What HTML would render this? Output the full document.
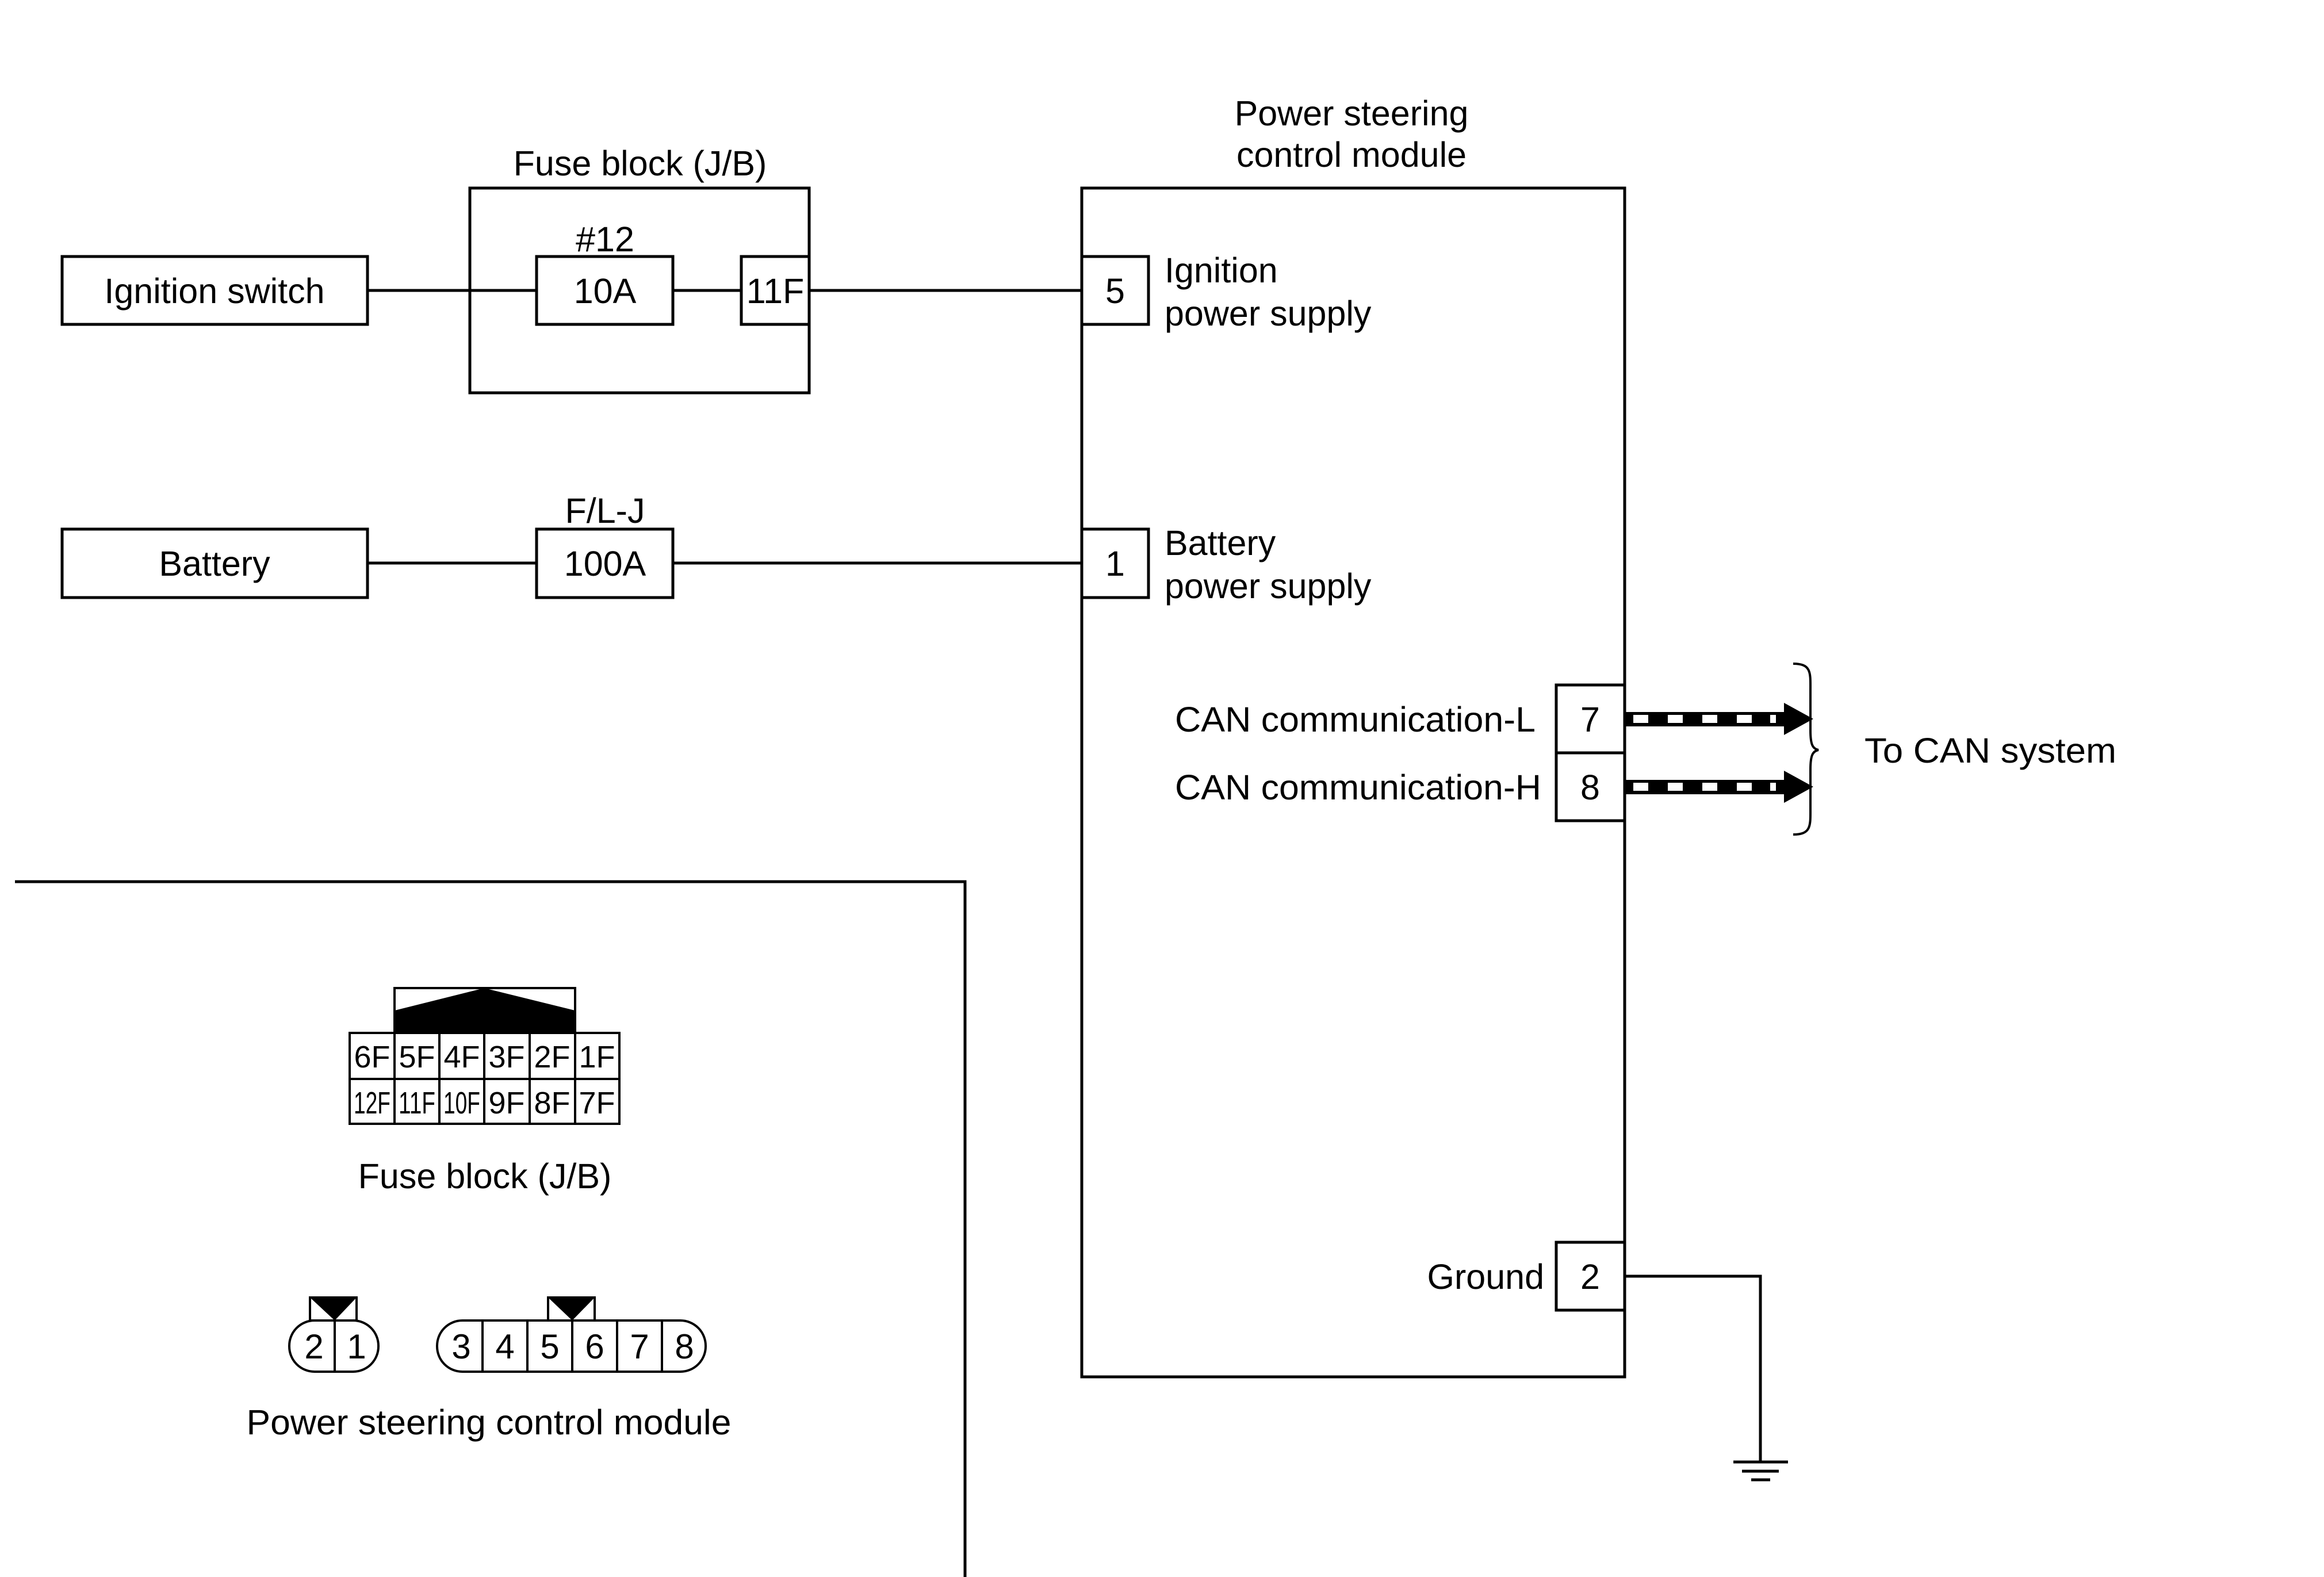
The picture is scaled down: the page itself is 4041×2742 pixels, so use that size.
<!DOCTYPE html>
<html><head><meta charset="utf-8"><style>html,body{margin:0;padding:0;background:#fff}svg{display:block}text{font-family:"Liberation Sans",sans-serif;fill:#000}</style></head>
<body>
<svg width="4041" height="2742" viewBox="0 0 4041 2742" xmlns="http://www.w3.org/2000/svg">
<g fill="none" stroke="#000" stroke-width="5">
<rect x="108" y="446" width="531" height="118"/>
<rect x="817" y="327" width="590" height="356"/>
<rect x="933" y="446" width="237" height="118"/>
<rect x="1289" y="446" width="118" height="118"/>
<line x1="639" y1="505" x2="933" y2="505"/>
<line x1="1170" y1="505" x2="1289" y2="505"/>
<line x1="1407" y1="505" x2="1881" y2="505"/>
<rect x="108" y="920" width="531" height="119"/>
<rect x="933" y="920" width="237" height="119"/>
<line x1="639" y1="979" x2="933" y2="979"/>
<line x1="1170" y1="979" x2="1881" y2="979"/>
<rect x="1881" y="327" width="944" height="2067"/>
<rect x="1881" y="446" width="116" height="118"/>
<rect x="1881" y="920" width="116" height="119"/>
<rect x="2706" y="1191" width="119" height="118"/>
<rect x="2706" y="1309" width="119" height="118"/>
<rect x="2706" y="2160" width="119" height="118"/>
<polyline points="2825,2219 3061,2219 3061,2542"/>
<line x1="3014" y1="2542" x2="3109" y2="2542"/>
<line x1="3029" y1="2558" x2="3093" y2="2558"/>
<line x1="3045" y1="2573" x2="3078" y2="2573"/>
<polyline points="26,1533 1678,1533 1678,2742"/>
<path d="M3118,1154 C3150,1154 3148,1170 3148,1200 L3148,1270 C3148,1295 3152,1302 3162,1304 C3152,1306 3148,1313 3148,1338 L3148,1405 C3148,1435 3150,1451 3118,1451" stroke-width="4"/>
</g>
<!-- CAN arrows -->
<g>
<rect x="2825" y="1238" width="280" height="25" fill="#000"/>
<polygon points="3102,1222 3153,1250 3102,1278" fill="#000"/>
<rect x="2825" y="1356" width="280" height="25" fill="#000"/>
<polygon points="3102,1340 3153,1368 3102,1396" fill="#000"/>
<g fill="#fff">
<rect x="2840" y="1243" width="26" height="14"/><rect x="2900" y="1243" width="26" height="14"/><rect x="2960" y="1243" width="26" height="14"/><rect x="3020" y="1243" width="26" height="14"/><rect x="3078" y="1243" width="10" height="14"/>
<rect x="2840" y="1361" width="26" height="14"/><rect x="2900" y="1361" width="26" height="14"/><rect x="2960" y="1361" width="26" height="14"/><rect x="3020" y="1361" width="26" height="14"/><rect x="3078" y="1361" width="10" height="14"/>
</g>
</g>
<g font-size="61">
<text x="373" y="527" text-anchor="middle">Ignition switch</text>
<text x="1113" y="305" text-anchor="middle">Fuse block (J/B)</text>
<text x="1052" y="437" text-anchor="middle">#12</text>
<text x="1052" y="527" text-anchor="middle">10A</text>
<text x="1348" y="527" text-anchor="middle">11F</text>
<text x="373" y="1001" text-anchor="middle">Battery</text>
<text x="1052" y="909" text-anchor="middle">F/L-J</text>
<text x="1052" y="1001" text-anchor="middle">100A</text>
<text x="2350" y="218" text-anchor="middle">Power steering</text>
<text x="2350" y="290" text-anchor="middle">control module</text>
<text x="1939" y="527" text-anchor="middle">5</text>
<text x="2025" y="491">Ignition</text>
<text x="2025" y="566">power supply</text>
<text x="1939" y="1001" text-anchor="middle">1</text>
<text x="2025" y="965">Battery</text>
<text x="2025" y="1040">power supply</text>
<text x="2765" y="1272" text-anchor="middle">7</text>
<text x="2765" y="1390" text-anchor="middle">8</text>
<text x="2670" y="1272" text-anchor="end" textLength="627" lengthAdjust="spacingAndGlyphs">CAN communication-L</text>
<text x="2680" y="1390" text-anchor="end" textLength="637" lengthAdjust="spacingAndGlyphs">CAN communication-H</text>
<text x="3242" y="1326" textLength="438" lengthAdjust="spacingAndGlyphs">To CAN system</text>
<text x="2685" y="2241" text-anchor="end">Ground</text>
<text x="2765" y="2241" text-anchor="middle">2</text>
<text x="843" y="2066" text-anchor="middle">Fuse block (J/B)</text>
<text x="850" y="2494" text-anchor="middle" textLength="843" lengthAdjust="spacingAndGlyphs">Power steering control module</text>
</g>
<!-- fuse block connector -->
<g fill="none" stroke="#000" stroke-width="4">
<rect x="686" y="1718" width="314" height="78"/>
<rect x="608" y="1796" width="469" height="158"/>
<line x1="608" y1="1876" x2="1077" y2="1876"/>
<line x1="686" y1="1796" x2="686" y2="1954"/>
<line x1="764" y1="1796" x2="764" y2="1954"/>
<line x1="842" y1="1796" x2="842" y2="1954"/>
<line x1="921" y1="1796" x2="921" y2="1954"/>
<line x1="1000" y1="1796" x2="1000" y2="1954"/>
</g>
<polygon points="686,1757 842,1718 1000,1757 1000,1796 686,1796" fill="#000"/>
<g font-size="54" text-anchor="middle">
<text x="647" y="1856">6F</text><text x="725" y="1856">5F</text><text x="803" y="1856">4F</text><text x="881" y="1856">3F</text><text x="960" y="1856">2F</text><text x="1038" y="1856">1F</text>
<text x="647" y="1936" textLength="64" lengthAdjust="spacingAndGlyphs">12F</text><text x="725" y="1936" textLength="64" lengthAdjust="spacingAndGlyphs">11F</text><text x="803" y="1936" textLength="64" lengthAdjust="spacingAndGlyphs">10F</text><text x="881" y="1936">9F</text><text x="960" y="1936">8F</text><text x="1038" y="1936">7F</text>
</g>
<!-- PSCM connectors -->
<g fill="none" stroke="#000" stroke-width="4">
<rect x="539" y="2256" width="81" height="40"/>
<rect x="503" y="2296" width="155" height="89" rx="44"/>
<line x1="582" y1="2296" x2="582" y2="2385"/>
<rect x="953" y="2256" width="81" height="40"/>
<rect x="760" y="2296" width="467" height="89" rx="44"/>
<line x1="839" y1="2296" x2="839" y2="2385"/>
<line x1="917" y1="2296" x2="917" y2="2385"/>
<line x1="995" y1="2296" x2="995" y2="2385"/>
<line x1="1073" y1="2296" x2="1073" y2="2385"/>
<line x1="1151" y1="2296" x2="1151" y2="2385"/>
</g>
<polygon points="539,2256 620,2256 582,2296" fill="#000"/>
<polygon points="953,2256 1034,2256 995,2296" fill="#000"/>
<g font-size="60" text-anchor="middle">
<text x="546" y="2362">2</text><text x="620" y="2362">1</text>
<text x="802" y="2362">3</text><text x="878" y="2362">4</text><text x="956" y="2362">5</text><text x="1034" y="2362">6</text><text x="1112" y="2362">7</text><text x="1190" y="2362">8</text>
</g>
</svg>
</body></html>
